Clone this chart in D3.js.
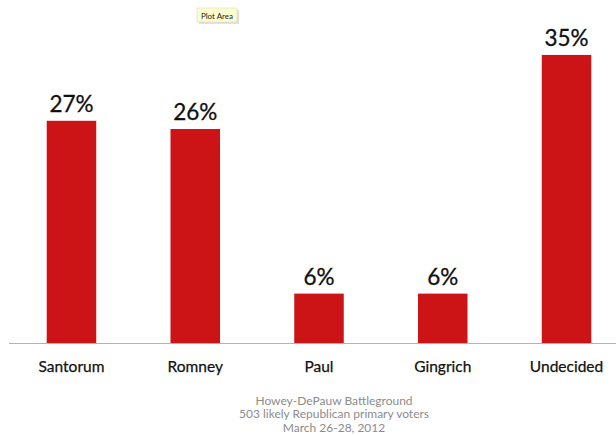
<!DOCTYPE html>
<html>
<head>
<meta charset="utf-8">
<script src="https://cdn.jsdelivr.net/npm/d3@7"></script>
<style>
body { margin: 0; background: #fff; }
text { font-family: Lato, "Open Sans", sans-serif; }
</style>
</head>
<body>
<script>
// poll values
var candidates = ["Santorum", "Romney", "Paul", "Gingrich", "Undecided"];
var shares = [27, 26, 6, 6, 35];
var footer = ["Howey-DePauw Battleground", "503 likely Republican primary voters", "March 26-28, 2012"];

var width = 616, height = 435;
var baseY = 343;

var svg = d3.select("body").append("svg")
  .attr("width", width)
  .attr("height", height);

var x = d3.scaleBand()
  .domain(candidates)
  .range([9.6, 628.4])
  .paddingInner(0.6)
  .paddingOuter(0.3);

var y = d3.scaleLinear()
  .domain([0, 40])
  .range([baseY, baseY - 329.2]);

// bars
svg.selectAll("rect.bar")
  .data(candidates)
  .enter().append("rect")
  .attr("class", "bar")
  .attr("x", function(d) { return x(d); })
  .attr("y", function(d, i) { return y(shares[i]); })
  .attr("width", x.bandwidth())
  .attr("height", function(d, i) { return baseY - y(shares[i]); })
  .attr("fill", "#cc1417");

// axis line
svg.append("line")
  .attr("x1", 9).attr("x2", width)
  .attr("y1", baseY + 0.5).attr("y2", baseY + 0.5)
  .style("stroke", "#b3b3b3")
  .style("stroke-width", 1.2);

// value labels
svg.selectAll("text.val")
  .data(candidates)
  .enter().append("text")
  .attr("class", "val")
  .attr("x", function(d) { return x(d) + x.bandwidth() / 2; })
  .attr("y", function(d, i) { return y(shares[i]) - 9; })
  .attr("text-anchor", "middle")
  .style("font-size", "22.5px")
  .style("fill", "#111")
  .style("stroke", "#111")
  .style("stroke-width", 0.3)
  .text(function(d, i) { return shares[i] + "%"; });

// category labels
svg.selectAll("text.cat")
  .data(candidates)
  .enter().append("text")
  .attr("class", "cat")
  .attr("x", function(d) { return x(d) + x.bandwidth() / 2; })
  .attr("y", 372)
  .attr("text-anchor", "middle")
  .style("font-size", "15.5px")
  .style("fill", "#111")
  .style("stroke", "#111")
  .style("stroke-width", 0.25)
  .text(function(d) { return d; });

// source footer
svg.selectAll("text.foot")
  .data(footer)
  .enter().append("text")
  .attr("class", "foot")
  .attr("x", 334)
  .attr("y", function(d, i) { return 404.5 + i * 13.7; })
  .attr("text-anchor", "middle")
  .style("font-size", "12px")
  .style("fill", "#8c8c8c")
  .text(function(d) { return d; });

// "Plot Area" tooltip
var tip = svg.append("g").attr("transform", "translate(197,8)");
tip.append("rect")
  .attr("x", 2).attr("y", 2)
  .attr("width", 40).attr("height", 14)
  .attr("fill", "#000").attr("opacity", 0.12);
tip.append("rect")
  .attr("width", 40).attr("height", 14)
  .attr("fill", "#fdfdd0")
  .attr("stroke", "#d8d8b0")
  .attr("stroke-width", 0.5);
tip.append("text")
  .attr("x", 20).attr("y", 10.5)
  .attr("text-anchor", "middle")
  .style("font-size", "8px")
  .style("fill", "#222")
  .text("Plot Area");
</script>
</body>
</html>
